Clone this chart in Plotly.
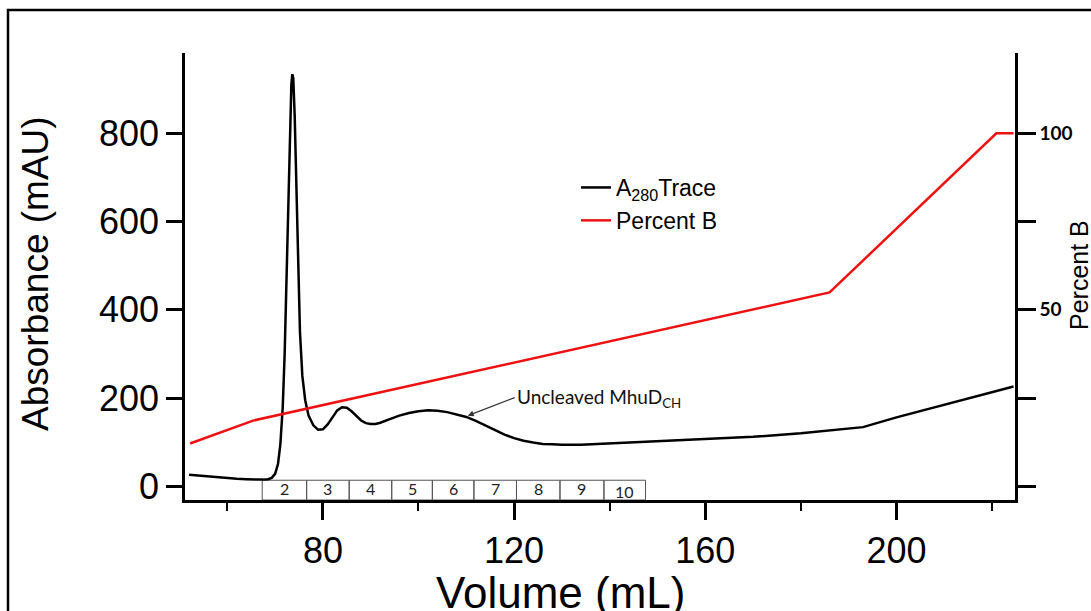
import plotly.graph_objects as go

# ---------------- data ----------------
a280_volume = [52.0, 53.0, 54.0, 56.0, 58.0, 60.0, 62.0, 64.0, 66.0, 67.5, 68.5, 69.3, 70.0, 70.6,
               71.1, 71.6, 72.0, 72.4, 72.8, 73.1, 73.4, 73.6, 73.8, 74.1, 74.4, 74.8, 75.2, 75.7,
               76.3, 77.0, 78.0, 79.0, 80.0, 81.0, 82.0, 83.0, 84.0, 85.0, 86.0, 87.0, 88.0, 89.0,
               90.0, 91.0, 92.0, 94.0, 96.0, 98.0, 100.0, 102.0, 104.0, 106.0, 108.0, 110.0, 112.0,
               114.0, 116.0, 118.0, 120.0, 122.0, 124.0, 126.0, 128.0, 130.0, 134.0, 140.0, 150.0,
               160.0, 170.0, 180.0, 188.0, 193.0, 200.0, 210.0, 220.0, 224.5]
a280_mau = [26, 25, 24, 22, 20, 18, 17, 16, 15, 15, 16, 19, 28, 50,
            95, 180, 300, 460, 640, 800, 910, 934, 925, 840, 690, 500, 350, 250,
            195, 160, 138, 128, 129, 140, 157, 172, 179, 178, 170, 159, 149, 143,
            141, 141, 144, 152, 160, 166, 170, 172, 171, 168, 163, 157, 148,
            138, 127, 117, 109, 103, 99, 96, 95, 94, 94, 97, 101,
            106, 112, 120, 128, 134, 156, 184, 213, 226]

percent_b_volume = [52.2, 65.4, 186.0, 220.9, 224.5]
percent_b_value = [12.1, 18.6, 54.9, 100.0, 100.0]

fraction_edges = [67.3, 76.6, 85.5, 94.4, 102.9, 111.6, 120.5, 129.6, 138.8, 147.5]
fraction_labels = ["2", "3", "4", "5", "6", "7", "8", "9", "10"]

x_ticks = [80, 120, 160, 200]
y_ticks = [0, 200, 400, 600, 800]
pb_ticks = [0, 25, 50, 75, 100]
pb_ticktext = ["", "", "50", "", "100"]

# ---------------- figure ----------------
Y_MIN, Y_MAX = -31.2, 982.0
SCALE = 8.0  # 800 mAU <-> 100 %
ARIAL = "Liberation Sans, Arial, sans-serif"
CAL = "Lato, Carlito, Calibri, sans-serif"

fig = go.Figure()
fig.add_trace(go.Scatter(x=a280_volume, y=a280_mau, mode="lines",
                         line=dict(color="black", width=2.5),
                         name="A<sub>280</sub>Trace"))
fig.add_trace(go.Scatter(x=percent_b_volume, y=percent_b_value, mode="lines",
                         line=dict(color="#ee1111", width=2.5),
                         name="Percent B", yaxis="y2"))

shapes = []
annotations = []
box_top = 13.6
for i, lab in enumerate(fraction_labels):
    x0, x1 = fraction_edges[i], fraction_edges[i + 1]
    shapes.append(dict(type="rect", xref="x", yref="y", x0=x0, x1=x1, y0=Y_MIN, y1=box_top,
                       line=dict(color="#555555", width=1), layer="below"))
    annotations.append(dict(x=(x0 + x1) / 2, y=-5 if lab != "10" else -12, xref="x", yref="y",
                            text=lab, showarrow=False, font=dict(family=CAL, size=16, color="#222")))

# outer frame
def px_x(p):
    return (p - 185) / 830.0

def px_y(p):
    return (500 - p) / 447.0

shapes.append(dict(type="rect", xref="paper", yref="paper", x0=px_x(8), x1=px_x(1110),
                   y0=px_y(630), y1=px_y(10), line=dict(color="black", width=2.5)))

# axis titles
annotations.append(dict(xref="paper", yref="paper", x=px_x(35), y=px_y(274), text="Absorbance (mAU)",
                        textangle=-90, showarrow=False, xanchor="center", yanchor="middle",
                        font=dict(family=ARIAL, size=37, color="black")))
annotations.append(dict(xref="paper", yref="paper", x=px_x(560), y=px_y(592), text="Volume (mL)",
                        showarrow=False, xanchor="center", yanchor="middle",
                        font=dict(family=ARIAL, size=44, color="black")))
annotations.append(dict(xref="paper", yref="paper", x=px_x(1079), y=px_y(275), text="Percent B",
                        textangle=-90, showarrow=False, xanchor="center", yanchor="middle",
                        font=dict(family=ARIAL, size=25, color="black")))

# peak label
annotations.append(dict(x=110.3, y=160, xref="x", yref="y", text="Uncleaved MhuD<sub>CH</sub>",
                        showarrow=True, arrowhead=2, arrowsize=1, arrowwidth=1.2, arrowcolor="#333",
                        ax=47, ay=-18, xanchor="left", yanchor="middle",
                        font=dict(family=CAL, size=19, color="#111")))

fig.update_layout(
    width=1091, height=611,
    margin=dict(l=185, r=76, t=53, b=111),
    paper_bgcolor="white", plot_bgcolor="white",
    showlegend=True,
    legend=dict(x=px_x(576), y=px_y(166), xanchor="left", yanchor="top",
                bgcolor="rgba(0,0,0,0)", font=dict(family=ARIAL, size=23, color="black"),
                tracegroupgap=0),
    xaxis=dict(range=[51.15, 224.8], tickvals=x_ticks, showgrid=False, zeroline=False,
               showline=True, linecolor="black", linewidth=2.5,
               ticks="outside", ticklen=17, tickwidth=2.5, tickcolor="black",
               tickfont=dict(family=ARIAL, size=36, color="black"),
               minor=dict(tickvals=[60, 100, 140, 180, 220], ticks="outside", ticklen=8,
                          tickwidth=2, tickcolor="black")),
    yaxis=dict(range=[Y_MIN, Y_MAX], tickvals=y_ticks, showgrid=False, zeroline=False,
               showline=True, linecolor="black", linewidth=2.5,
               ticks="outside", ticklen=16, tickwidth=2.5, tickcolor="black",
               tickfont=dict(family=ARIAL, size=36, color="black")),
    yaxis2=dict(range=[Y_MIN / SCALE, Y_MAX / SCALE], overlaying="y", side="right",
                tickvals=pb_ticks, ticktext=pb_ticktext, showgrid=False, zeroline=False,
                showline=True, linecolor="black", linewidth=2.5,
                ticks="outside", ticklen=18, tickwidth=2.5, tickcolor="black",
                tickfont=dict(family=CAL, size=19, color="black", weight="bold")),
    shapes=shapes,
    annotations=annotations,
)

fig.write_html("out.html")
